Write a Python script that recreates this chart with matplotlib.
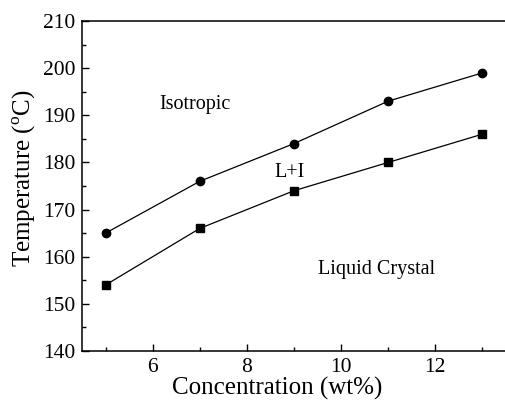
import matplotlib
matplotlib.use("Agg")
import matplotlib.pyplot as plt
from matplotlib.ticker import MultipleLocator

plt.rcParams['font.family'] = 'Liberation Serif'
plt.rcParams['mathtext.fontset'] = 'custom'
plt.rcParams['mathtext.rm'] = 'Liberation Serif'

# data
conc = [5, 7, 9, 11, 13]
t_iso = [165, 176, 184, 193, 199]
t_lc = [154, 166, 174, 180, 186]

fig = plt.figure(figsize=(5.06, 4.05), dpi=100)
ax = fig.add_axes([82/506, 1-351/405, (506-82)/506, 330/405])

ax.plot(conc, t_iso, '-o', color='black', lw=0.9, ms=6)
ax.plot(conc, t_lc, '-s', color='black', lw=0.9, ms=5.5)

ax.set_xlim(4.5, 13.5)
ax.set_ylim(140, 210)
ax.xaxis.set_major_locator(MultipleLocator(2))
ax.xaxis.set_minor_locator(MultipleLocator(1))
ax.yaxis.set_major_locator(MultipleLocator(10))
ax.yaxis.set_minor_locator(MultipleLocator(5))
ax.tick_params(which='both', direction='in', top=False, right=False, labelsize=15.5, width=1)
ax.tick_params(which='major', length=5, pad=5)
ax.tick_params(which='minor', length=3)
ax.spines['right'].set_visible(False)
for s in ['left', 'bottom', 'top']:
    ax.spines[s].set_linewidth(1.1)

ax.set_xlabel('Concentration (wt%)', fontsize=18)
ax.set_ylabel('Temperature ($^{\\mathrm{o}}$C)', fontsize=18)
ax.xaxis.set_label_coords((277-82)/424, -(388-351)/330, transform=ax.transAxes)
ax.xaxis.label.set_va('center')
ax.yaxis.set_label_coords(-(82-24)/424, (351-178)/330, transform=ax.transAxes)
ax.yaxis.label.set_va('center')

ax.text(6.9, 192.2, 'Isotropic', fontsize=14.5, ha='center', va='center')
ax.text(8.9, 177.8, 'L+I', fontsize=14.5, ha='center', va='center')
ax.text(10.75, 157.2, 'Liquid Crystal', fontsize=14.5, ha='center', va='center')

fig.savefig('out.png', dpi=100)
